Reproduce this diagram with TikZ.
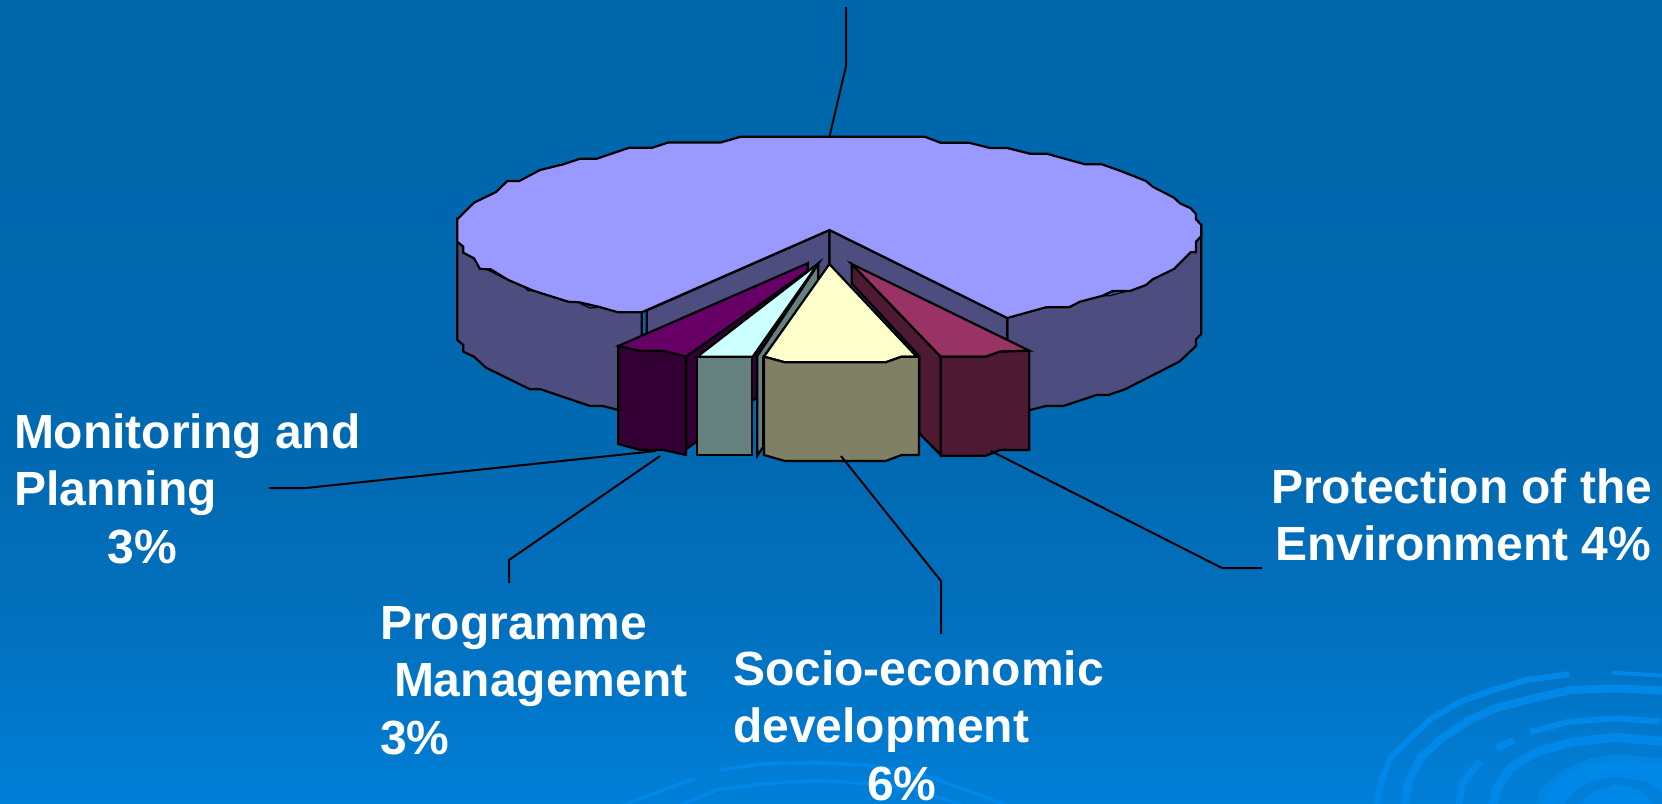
\documentclass[tikz,border=0pt]{standalone}
\usepackage{fontspec}
\setmainfont{Liberation Sans}
\definecolor{bgA}{RGB}{0,102,171}
\definecolor{bgB}{RGB}{1,105,177}
\definecolor{bgC}{RGB}{2,112,190}
\definecolor{bgD}{RGB}{0,127,216}
\definecolor{swirl}{RGB}{0,136,232}
\definecolor{swirlB}{RGB}{0,133,224}
\definecolor{topface}{RGB}{153,153,255}
\definecolor{sideface}{RGB}{77,77,128}
\definecolor{purpleT}{RGB}{102,0,102}
\definecolor{purpleS}{RGB}{51,0,51}
\definecolor{cyanT}{RGB}{204,255,255}
\definecolor{cyanS}{RGB}{102,128,128}
\definecolor{yellowT}{RGB}{255,255,204}
\definecolor{yellowS}{RGB}{128,128,102}
\definecolor{maroonT}{RGB}{153,51,102}
\definecolor{maroonS}{RGB}{77,25,51}
\pgfdeclareverticalshading{bgshade}{100bp}{color(0bp)=(bgD); color(25bp)=(bgD); color(36bp)=(bgC); color(47bp)=(bgB); color(75bp)=(bgA); color(100bp)=(bgA)}
\tikzset{
  facet/.style={draw=black,line width=1.1pt,line join=miter},
  leader/.style={draw=black,line width=1pt},
  lbl/.style={anchor=north west,inner sep=0pt,outer sep=0pt,align=left,text=white,
    font=\fontsize{24}{28.75}\selectfont\bfseries},
  swirlline/.style={draw=swirl,line join=round},
}
\newcommand{\firstline}{\rule{0pt}{20pt}}
\begin{document}
\begin{tikzpicture}[x=0.5pt,y=-0.5pt]
\useasboundingbox (0,0) rectangle (1662,804);
\shade[shading=bgshade] (0,0) rectangle (1662,804);
% background swirl, bottom right
\begin{scope}
\clip (0,0) rectangle (1662,804);
\begin{scope}[shift={(1360,660)},xscale=0.33333,yscale=0.33333]
\fill[swirlB] (525,440) -- (545,380) -- (610,330) -- (690,295) -- (770,283) -- (910,295) -- (910,440) -- cycle;
\fill[swirl] (540,440) -- (565,385) -- (625,340) -- (695,312) -- (770,303) -- (910,312) -- (910,440) -- cycle;
\fill[bgD] (610,440) -- (640,395) -- (700,362) -- (770,350) -- (860,365) -- (910,400) -- (910,440) -- cycle;
\fill[swirl] (650,440) -- (700,395) -- (770,372) -- (840,390) -- (890,440) -- cycle;
\draw[swirlline,line width=4.5pt] (397,440) -- (410,385) -- (450,325) -- (530,275) -- (640,245) -- (770,232) -- (910,245);
\draw[swirlline,line width=3pt] (50,440) -- (60,380) -- (90,295) -- (150,235) -- (215,175) -- (300,125) -- (400,90) -- (500,60) -- (627,43);
\draw[swirlline,line width=2pt] (757,38) -- (910,47);
\draw[swirlline,line width=4pt] (135,440) -- (145,365) -- (180,295) -- (245,235) -- (320,185) -- (405,145) -- (520,115) -- (635,90) -- (770,85) -- (910,92);
\draw[swirlline,line width=3pt] (510,216) -- (630,185) -- (770,175) -- (902,185);
\draw[swirlline,line width=3.5pt] (408,265) -- (462,240);
\draw[swirlline,line width=3.5pt] (295,440) -- (310,365) -- (360,305);
\end{scope}
% background arcs, bottom centre
\begin{scope}[shift={(600,740)},xscale=0.33333,yscale=0.33333]
\draw[swirlline,line width=1.8pt] (360,90) -- (480,72) -- (650,68) -- (800,75) -- (950,100) -- (1070,140) -- (1230,200);
\draw[swirlline,line width=1.8pt] (60,200) -- (150,165) -- (285,115);
\draw[swirlline,line width=1.8pt] (230,200) -- (350,150) -- (500,130) -- (650,122) -- (800,130) -- (950,150) -- (1100,200);
\end{scope}
\end{scope}
% main pie: outer side faces
\draw[facet,fill=sideface] (457.3,219) -- (457.3,340) -- (463.3,345) -- (463.3,351.7) -- (474,356.7) -- (486,367.7) -- (530,389.3) -- (540.7,389.3) -- (590,406) -- (602.7,406) -- (618.3,410) -- (641.7,418) -- (641.7,305) -- cycle;
\draw[facet,fill=sideface] (1201.3,225) -- (1201.3,334) -- (1196,339.3) -- (1196,346) -- (1179.3,361.7) -- (1125,389.3) -- (1108.3,395) -- (1096.7,395) -- (1063.3,406) -- (1046,406) -- (1030,410) -- (1007.3,418) -- (1007.3,310) -- cycle;
% main pie: cut faces
\draw[facet,fill=sideface] (829.5,230) -- (646.7,310.5) -- (646.7,373) -- (829.5,327) -- cycle;
\draw[facet,fill=sideface] (829.5,230) -- (1007.3,318) -- (1007.3,413) -- (829.5,327) -- cycle;
% small gaps between rim and top face
\draw[facet,fill=bgA,line width=0.6pt] (578.3,301.7) -- (598.3,307.3) -- (590,308) -- (581.7,304.3) -- cycle;
\draw[facet,fill=bgA,line width=0.6pt] (521.7,285) -- (533.3,290.7) -- (528.3,290.7) -- cycle;
\draw[facet,fill=bgA,line width=0.6pt] (1101.7,296) -- (1115,291) -- (1125,291.7) -- (1110,295.7) -- cycle;
\draw[facet] (486.7,268.7) -- (505,278.3);
% main pie: top face
\draw[facet,fill=topface] (457.3,219.3) -- (474,202.7) -- (496,192) -- (507.3,181) -- (519.3,181) -- (540,170) -- (563.3,164.3) -- (580,158.7) -- (596.7,158.7) -- (629.3,147.7) -- (652.3,147.7) -- (668.3,142.5) -- (720.7,142.5) -- (740.6,136.7) -- (924.7,136.7) -- (940.4,142.7) -- (969,142.7) -- (990,148) -- (1007.3,148) -- (1030,153.7) -- (1046.7,153.7) -- (1085,164.3) -- (1101.7,164.3) -- (1120,170.7) -- (1146,181) -- (1152.7,186.7) -- (1174,197.7) -- (1180,203.3) -- (1190.7,208.3) -- (1196,214) -- (1196,219.3) -- (1201.3,225) -- (1201.3,236) -- (1196,241.7) -- (1196,252.3) -- (1190.7,252.3) -- (1174,269) -- (1152.7,279.3) -- (1146,285) -- (1130,291) -- (1112.7,291) -- (1101.7,296) -- (1080,301.7) -- (1069,307.3) -- (1046,307.3) -- (1007.3,318) -- (829.5,230) -- (641.7,312.3) -- (618.3,312.3) -- (598.3,306.7) -- (579.3,302.3) -- (568.3,301.7) -- (533.3,290.7) -- (508.3,280) -- (490.7,269.3) -- (480,269) -- (474,258.3) -- (463.3,252.7) -- (463.3,246.7) -- (457.3,241.7) -- cycle;
\coordinate (pieTop) at (829.5,136.7);
% exploded slices
\begin{scope}[shift={(600,250)},xscale=0.33333,yscale=0.33333]
% monitoring and planning
\draw[facet,fill=purpleS] (623,40) -- (623,330) -- (258,598) -- (258,320) -- cycle;
\draw[facet,fill=purpleT] (623,40) -- (55,288) -- (120,303) -- (190,303) -- (258,320) -- (623,62) -- cycle;
\draw[facet,fill=purpleS] (55,288) -- (120,303) -- (190,303) -- (258,320) -- (258,615) -- (190,600) -- (120,600) -- (55,582) -- cycle;
% programme management
\draw[facet,fill=cyanT] (655,40) -- (292,320) -- (458,320) -- cycle;
\draw[facet,fill=cyanS] (472,318) -- (655,42) -- (655,95) -- (490,322) -- (490,590) -- (472,617) -- cycle;
\draw[facet,fill=cyanS] (290,320) -- (457,320) -- (457,615) -- (290,615) -- cycle;
% protection of the environment
\draw[facet,fill=maroonS] (755,42) -- (1022,320) -- (1022,615) -- (958,550) -- (958,318) -- (755,100) -- cycle;
\draw[facet,fill=maroonT] (755,42) -- (1288,302) -- (1200,305) -- (1158,320) -- (1022,320) -- cycle;
\draw[facet,fill=maroonS] (1022,320) -- (1158,320) -- (1200,305) -- (1288,302) -- (1288,600) -- (1200,600) -- (1158,617) -- (1022,617) -- cycle;
% socio-economic development
\draw[facet,fill=yellowT] (688,42) -- (950,320) -- (905,320) -- (857,337) -- (555,337) -- (492,320) -- cycle;
\draw[facet,fill=yellowS] (492,320) -- (555,337) -- (857,337) -- (905,320) -- (957,320) -- (957,615) -- (905,615) -- (857,633) -- (555,633) -- (492,615) -- cycle;
\end{scope}
% labels
\node[lbl] (monitoring) at (14,408) {\firstline Monitoring and\\Planning\\\hspace*{47pt}3\%};
\node[lbl] (programme) at (380,599) {\firstline Programme\\\hspace*{7pt}Management\\3\%};
\node[lbl] (socio) at (733,645) {\firstline Socio-economic\\development\\\hspace*{67pt}6\%};
\node[lbl] (protection) at (1271,463) {\firstline Protection of the\\\hspace*{2pt}Environment 4\%};
% leader lines
\coordinate (topFree) at (846,7);
\coordinate (monEnd) at (656,451);
\coordinate (monFree) at (269,488);
\coordinate (proEnd) at (660,456);
\coordinate (proFree) at (509,583);
\coordinate (socEnd) at (841,456);
\coordinate (socFree) at (941,634);
\coordinate (envEnd) at (991,451);
\coordinate (envFree) at (1262,568);
\draw[leader] (topFree) -- (846,66) -- (pieTop);
\draw[leader] (monFree) -- (306,488) -- (monEnd);
\draw[leader] (proFree) -- (509,560) -- (proEnd);
\draw[leader] (socEnd) -- (941,581) -- (socFree);
\draw[leader] (envEnd) -- (1222,568) -- (envFree);
\end{tikzpicture}
\end{document}
